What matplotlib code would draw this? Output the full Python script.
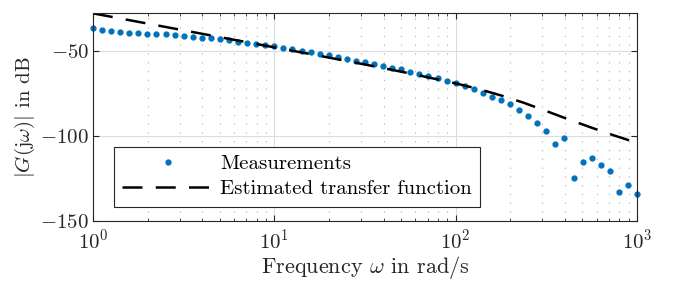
import numpy as np
import matplotlib
matplotlib.use('Agg')
import matplotlib.pyplot as plt
from matplotlib.ticker import LogLocator, NullFormatter, FixedLocator

plt.rcParams['font.family'] = 'serif'
plt.rcParams['font.serif'] = ['cmr10']
plt.rcParams['mathtext.fontset'] = 'cm'
plt.rcParams['axes.formatter.use_mathtext'] = True
plt.rcParams['axes.unicode_minus'] = False

# measured magnitude, 20 points per decade from 1 to 1000 rad/s
freq = np.logspace(0, 3, 61)
mag_meas = [-36.3, -37.5, -38.1, -38.7, -39.2, -39.6, -39.8, -40.2, -40.2, -40.6,
            -41.0, -41.8, -42.2, -42.4, -42.9, -43.7, -44.5, -45.1, -45.7, -46.3,
            -47.1, -48.1, -49.0, -49.8, -50.6, -51.6, -52.5, -53.3, -54.5, -55.7,
            -56.6, -57.6, -58.8, -59.8, -60.8, -62.4, -63.3, -64.5, -65.7, -67.5,
            -68.8, -70.6, -72.4, -74.5, -76.9, -78.6, -81.4, -84.5, -88.0, -92.2,
            -97.3, -104.5, -101.0, -124.5, -115.3, -112.9, -117.1, -120.4, -132.9,
            -128.8, -133.9]

# estimated transfer function
freq_tf = [1.0, 1.778, 3.162, 5.623, 10.0, 17.78, 31.62, 56.23, 100.0,
           133.4, 177.8, 237.1, 316.2, 421.7, 562.3, 749.9, 1000.0]
mag_tf = [-27.8, -32.8, -37.8, -42.8, -47.8, -52.8, -57.9, -63.2, -69.0,
          -72.3, -76.1, -80.4, -85.3, -90.3, -95.1, -99.7, -104.0]

fig = plt.figure(figsize=(6.75, 2.81), dpi=100)
ax = fig.add_axes([0.1378, 0.2135, 0.8059, 0.7402])

ax.semilogx(freq, mag_meas, '.', color='#0072BD', markersize=7, clip_on=False,
            label='Measurements')
ax.semilogx(freq_tf, mag_tf, '-', color='k', lw=1.8, dashes=(8, 5.3),
            label='Estimated transfer function')

ax.set_xlim(1, 1000)
ax.set_ylim(-150, -27.6)
ax.yaxis.set_major_locator(FixedLocator([-150, -100, -50]))
ax.xaxis.set_major_locator(LogLocator(base=10))
ax.xaxis.set_minor_locator(LogLocator(base=10, subs=np.arange(2, 10)))
ax.xaxis.set_minor_formatter(NullFormatter())

ax.grid(True, which='major', color='#dcdcdc', lw=0.8, ls='-')
ax.grid(True, which='minor', axis='x', color='#b8b8b8', lw=0.8, ls=(0, (1.2, 6.7)))
ax.set_axisbelow(True)

for s in ax.spines.values():
    s.set_color('#262626')
    s.set_linewidth(0.8)
ax.tick_params(which='both', direction='in', top=True, right=True,
               colors='#262626', labelcolor='#262626', labelsize=15)
ax.tick_params(axis='x', pad=5)
ax.tick_params(axis='y', pad=3)
ax.tick_params(which='major', length=4)
ax.tick_params(which='minor', length=2.5)

ax.set_xlabel(r'Frequency $\omega$ in rad/s', fontsize=16, color='#262626', labelpad=1)
ax.set_ylabel(r'$|G(\mathrm{j}\omega)|$ in dB', fontsize=15, color='#262626', labelpad=2)

leg = ax.legend(loc='lower left', bbox_to_anchor=(0.0386, 0.069), borderaxespad=0,
                fontsize=15, fancybox=False, framealpha=1, edgecolor='#262626',
                numpoints=1, handlelength=4.4, handletextpad=0.3,
                borderpad=0.4, labelspacing=0.3)
leg.get_frame().set_linewidth(0.8)

fig.savefig('out.png', dpi=100)
